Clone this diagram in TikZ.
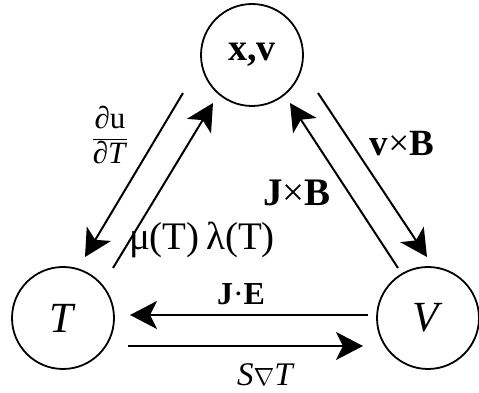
\documentclass[tikz,border=0pt]{standalone}
\usepackage{fontspec}
\setmainfont{Liberation Serif}
\usetikzlibrary{arrows.meta}
\begin{document}
\begin{tikzpicture}[x=1pt,y=1pt,
  state/.style={circle,draw,line width=1.8pt,minimum size=102pt,inner sep=0pt},
  flow/.style={line width=2pt,-{Stealth[length=27pt,width=28pt,inset=7pt]}},
  lab/.style={inner sep=0pt}]
\useasboundingbox (0,0) rectangle (479,393);
\node[state,font=\fontsize{38}{42}\selectfont] (xv) at (252,338) {\textbf{x,v}};
\node[state,font=\fontsize{43}{48}\selectfont] (T) at (63,75) {\raisebox{-4pt}{\textit{T}}};
\node[state,font=\fontsize{43}{48}\selectfont] (V) at (428,75) {\raisebox{-4pt}{\textit{V}}};
% connector ends
\coordinate (a1) at (183,300); \coordinate (a2) at (85,136);
\coordinate (b1) at (113,125); \coordinate (b2) at (213,290);
\coordinate (c1) at (398,125); \coordinate (c2) at (290,290);
\coordinate (d1) at (318,300); \coordinate (d2) at (427,136);
\coordinate (e1) at (368,78);  \coordinate (e2) at (130,78);
\coordinate (f1) at (128,47);  \coordinate (f2) at (363,47);
\draw[flow] (a1) -- (a2);
\draw[flow] (b1) -- (b2);
\draw[flow] (c1) -- (c2);
\draw[flow] (d1) -- (d2);
\draw[flow] (e1) -- (e2);
\draw[flow] (f1) -- (f2);
% labels
\node[lab,font=\fontsize{31}{34}\selectfont] (l1) at (110,258) {$\displaystyle\frac{\mbox{∂u}}{\mbox{∂\textit{T}}}$};
\node[lab,font=\fontsize{39}{44}\selectfont] (l2) at (202,153) {μ(T)\,λ(T)};
\node[lab,font=\fontsize{39}{44}\selectfont] (l3) at (297,200) {\textbf{J}×\textbf{B}};
\node[lab,font=\fontsize{37}{42}\selectfont] (l4) at (402,249) {\textbf{v}×\textbf{B}};
\node[lab,font=\fontsize{32}{36}\selectfont] (l5) at (241,99) {\textbf{J}·\textbf{E}};
\node[lab,font=\fontsize{33}{36}\selectfont] (l6) at (266,18) {\textit{S}$\nabla$\textit{T}};
\end{tikzpicture}
\end{document}
